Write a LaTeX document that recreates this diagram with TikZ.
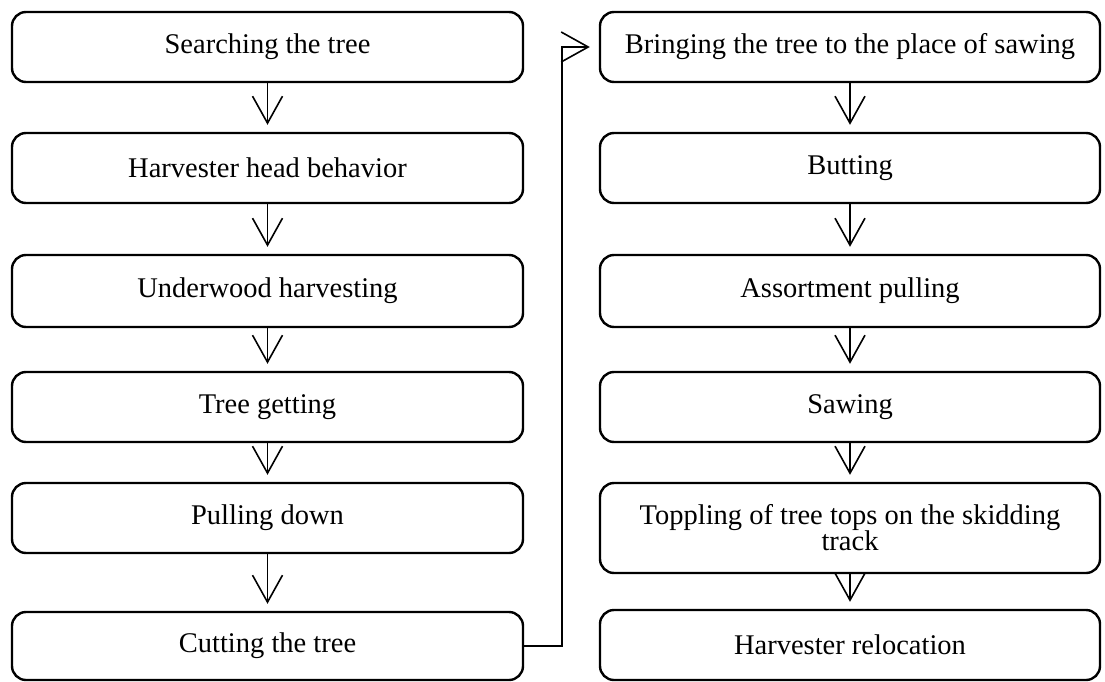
\documentclass[tikz,border=0pt]{standalone}
\usepackage{fontspec}
\setmainfont{Liberation Serif}
\usetikzlibrary{arrows.meta}
\begin{document}
\begin{tikzpicture}[x=1pt,y=-1pt,
  stepbox/.style={draw, line width=2.4pt, rounded corners=14pt, fill=white,
    align=center, inner sep=2pt, font=\fontsize{28.5}{30}\selectfont},
  leftbox/.style={stepbox, minimum width=511pt},
  rightbox/.style={stepbox, minimum width=500pt},
  flow/.style={line width=1.6pt, -{Straight Barb[length=27pt,width=30pt,line width=1.6pt]}}
]
\useasboundingbox[fill=white] (0,0) rectangle (1105,682);
% left column
\node[leftbox, minimum height=70pt] (a1) at (267.5,47) {Searching the tree};
\node[leftbox, minimum height=70pt] (a2) at (267.5,168) {Harvester head behavior};
\node[leftbox, minimum height=72pt] (a3) at (267.5,291) {Underwood harvesting};
\node[leftbox, minimum height=70pt] (a4) at (267.5,407) {Tree getting};
\node[leftbox, minimum height=70pt] (a5) at (267.5,518) {Pulling down};
\node[leftbox, minimum height=68pt] (a6) at (267.5,646) {Cutting the tree};
% right column
\node[rightbox, minimum height=70pt] (b1) at (850,47) {Bringing the tree to the place of sawing};
\node[rightbox, minimum height=70pt] (b2) at (850,168) {Butting};
\node[rightbox, minimum height=72pt] (b3) at (850,291) {Assortment pulling};
\node[rightbox, minimum height=70pt] (b4) at (850,407) {Sawing};
\node[rightbox, minimum height=90pt] (b5) at (850,528) {Toppling of tree tops on the skidding\\[-4pt]track};
\node[rightbox, minimum height=70pt] (b6) at (850,645) {Harvester relocation};
\coordinate (lx) at (562,0);
% arrows
\foreach \u/\v in {a1/a2,a2/a3,a3/a4,a4/a5,a5/a6,b1/b2,b2/b3,b3/b4,b4/b5,b5/b6}
  \draw[flow] (\u.south) -- ([yshift=7pt]\v.north);
\draw[flow] (a6.east) -- (a6.east -| lx) |- ([xshift=-9pt]b1.west);
\end{tikzpicture}
\end{document}
